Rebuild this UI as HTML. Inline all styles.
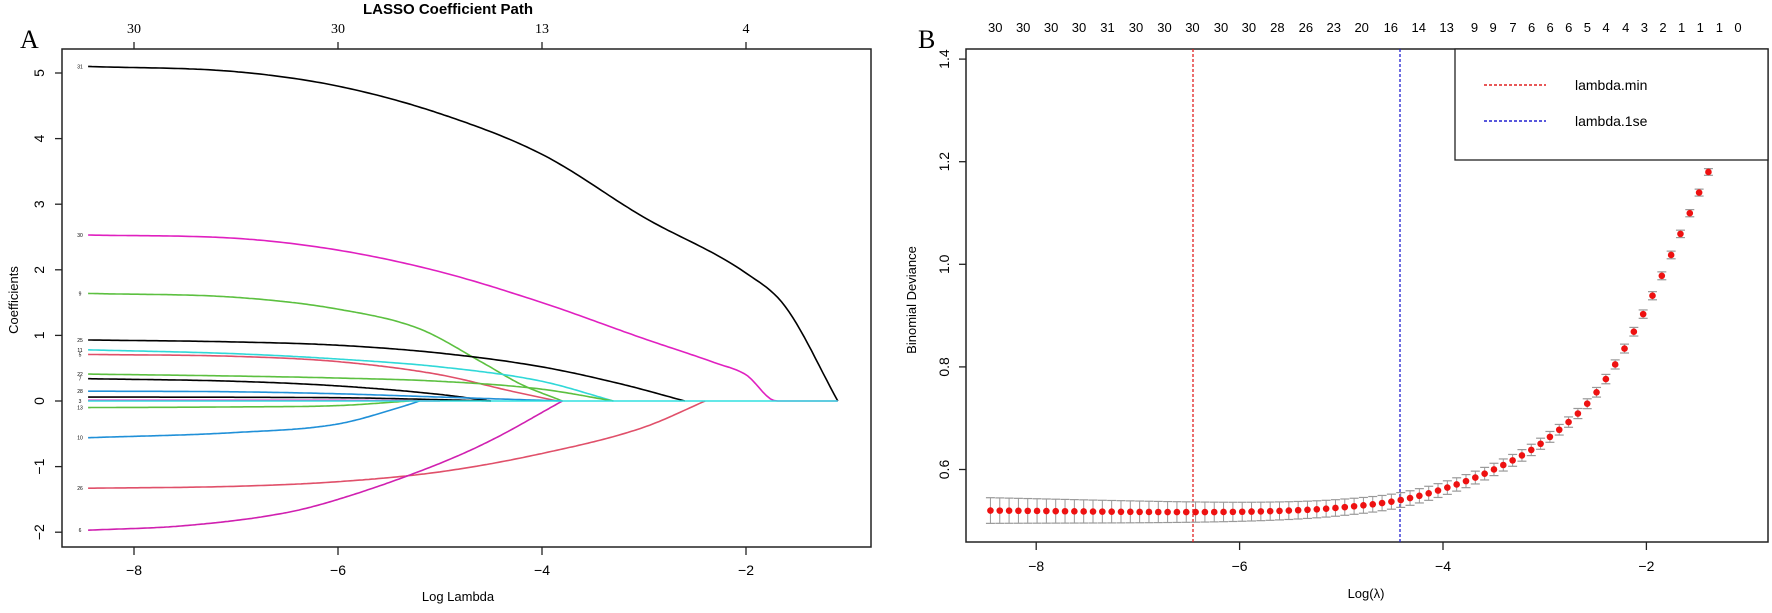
<!DOCTYPE html>
<html><head><meta charset="utf-8"><style>
html,body{margin:0;padding:0;background:#fff;}
svg{display:block;font-family:"Liberation Sans",Arial,sans-serif;}
</style></head><body>
<svg id="s" width="1772" height="613" viewBox="0 0 1772 613" xmlns="http://www.w3.org/2000/svg">
<rect width="1772" height="613" fill="#fff"/>
<text x="448" y="14" font-size="15" font-weight="bold" text-anchor="middle">LASSO Coefficient Path</text>
<text x="20" y="48" font-size="26" font-family="Liberation Serif,serif">A</text>
<rect x="62" y="49" width="809" height="498" fill="none" stroke="#222" stroke-width="1.5"/>
<g id="A"></g>
<text x="458" y="601" font-size="13" text-anchor="middle">Log Lambda</text>
<text transform="translate(18,300) rotate(-90)" font-size="13" text-anchor="middle">Coefficients</text>
<text x="918" y="48" font-size="26" font-family="Liberation Serif,serif">B</text>
<rect x="966" y="49" width="802" height="493" fill="none" stroke="#222" stroke-width="1.5"/>
<g id="B"></g>
<text x="1366" y="598" font-size="13" text-anchor="middle">Log(λ)</text>
<text transform="translate(916,300) rotate(-90)" font-size="13" text-anchor="middle">Binomial Deviance</text>
<rect x="1455" y="49" width="313" height="111" fill="#fff" stroke="#222" stroke-width="1.3"/>
<line x1="1484" y1="85" x2="1546" y2="85" stroke="#e02020" stroke-width="1.5" stroke-dasharray="3,2"/>
<line x1="1484" y1="121" x2="1546" y2="121" stroke="#2020d0" stroke-width="1.5" stroke-dasharray="3,2"/>
<text x="1575" y="90" font-size="14">lambda.min</text>
<text x="1575" y="126" font-size="14">lambda.1se</text>
</svg>
<script>
var NS="http://www.w3.org/2000/svg";
function el(p,t,a,txt){var e=document.createElementNS(NS,t);for(var k in a)e.setAttribute(k,a[k]);if(txt!==undefined)e.textContent=txt;p.appendChild(e);return e;}
var A=document.getElementById('A'),B=document.getElementById('B');
function AX(l){return 134+(l+8)*102;} function AY(c){return 401-c*65.6;}
[-8,-6,-4,-2].forEach(function(v,i){var x=AX(v);
 el(A,'line',{x1:x,y1:547,x2:x,y2:555,stroke:'#222','stroke-width':1.3});
 el(A,'text',{x:x,y:575,'font-size':14,'text-anchor':'middle'},String(v).replace('-','−'));
 el(A,'line',{x1:x,y1:49,x2:x,y2:42,stroke:'#222','stroke-width':1.3});
 el(A,'text',{x:x,y:33,'font-size':14,'text-anchor':'middle','font-family':'Liberation Serif,serif'},['30','30','13','4'][i]);
});
[-2,-1,0,1,2,3,4,5].forEach(function(v){var y=AY(v);
 el(A,'line',{x1:62,y1:y,x2:55,y2:y,stroke:'#222','stroke-width':1.3});
 el(A,'text',{transform:'translate(44,'+y+') rotate(-90)','font-size':14,'text-anchor':'middle'},String(v).replace('-','−'));
});
function mono(kn){var n=kn.length,dx=[],s=[],m=[];
 for(var i=0;i<n-1;i++){dx[i]=kn[i+1][0]-kn[i][0];s[i]=(kn[i+1][1]-kn[i][1])/dx[i];}
 m[0]=s[0];m[n-1]=s[n-2];
 for(i=1;i<n-1;i++){m[i]=(s[i-1]*s[i]<=0)?0:(s[i-1]+s[i])/2;}
 for(i=0;i<n-1;i++){if(s[i]==0){m[i]=0;m[i+1]=0;continue;}var a=m[i]/s[i],b=m[i+1]/s[i],h=a*a+b*b;if(h>9){var t=3/Math.sqrt(h);m[i]=t*a*s[i];m[i+1]=t*b*s[i];}}
 return function(x){if(x<=kn[0][0])return kn[0][1];for(var i=0;i<n-1;i++){if(x<=kn[i+1][0]){var h=dx[i],t=(x-kn[i][0])/h,t2=t*t,t3=t2*t;
  return (2*t3-3*t2+1)*kn[i][1]+(t3-2*t2+t)*h*m[i]+(-2*t3+3*t2)*kn[i+1][1]+(t3-t2)*h*m[i+1];}}return kn[n-1][1];};}
var curves=[
 ['#000','31',[[-8.45,5.1],[-7,5.02],[-6,4.8],[-5,4.38],[-4,3.76],[-3,2.8],[-2,1.95],[-1.62,1.45],[-1.1,0]]],
 ['#e020c0','30',[[-8.45,2.53],[-7,2.48],[-6,2.3],[-5,1.97],[-4,1.5],[-3,0.95],[-2.3,0.58],[-2,0.4],[-1.7,0],[-1.1,0]]],
 ['#5cc040','9',[[-8.45,1.64],[-7,1.58],[-6,1.4],[-5.2,1.1],[-4.6,0.6],[-4.2,0.25],[-3.8,0]]],
 ['#000','25',[[-8.45,0.93],[-7,0.9],[-6,0.85],[-5,0.73],[-4,0.52],[-3.2,0.25],[-2.6,0]]],
 ['#30d8d8','11',[[-8.45,0.78],[-7,0.72],[-6,0.64],[-5,0.52],[-4,0.3],[-3.3,0]]],
 ['#e0506a','5',[[-8.45,0.71],[-7,0.68],[-6,0.6],[-5,0.4],[-4.3,0.15],[-3.85,0]]],
 ['#5cc040','22',[[-8.45,0.41],[-7,0.38],[-6,0.35],[-5,0.3],[-4,0.18],[-3.3,0]]],
 ['#000','7',[[-8.45,0.34],[-7,0.3],[-6,0.23],[-5,0.1],[-4.5,0]]],
 ['#2090d8','28',[[-8.45,0.15],[-7,0.14],[-6,0.11],[-5,0.06],[-3.8,0]]],
 ['#000','',[[-8.45,0.06],[-6,0.05],[-5,0.02],[-4.5,0]]],
 ['#e020c0','',[[-8.45,0.01],[-6,0.01],[-5,0.0]]],
 ['#5cc040','13',[[-8.45,-0.1],[-7,-0.09],[-6,-0.07],[-5.3,0]]],
 ['#2090d8','10',[[-8.45,-0.56],[-7,-0.48],[-6,-0.35],[-5.4,-0.1],[-5.2,0]]],
 ['#e0506a','26',[[-8.45,-1.33],[-7,-1.3],[-6,-1.23],[-5,-1.08],[-4,-0.8],[-3,-0.4],[-2.4,0]]],
 ['#d020b0','6',[[-8.45,-1.97],[-7.5,-1.9],[-6.5,-1.7],[-6,-1.5],[-5,-0.95],[-4.5,-0.6],[-3.8,0]]]
];
curves.forEach(function(c){var kn=c[2],f=mono(kn),x0=kn[0][0],x1=kn[kn.length-1][0],d='';
 for(var k=0;k<=200;k++){var l=x0+(x1-x0)*k/200;d+=(k?'L':'M')+AX(l).toFixed(1)+','+AY(f(l)).toFixed(1);}
 el(A,'path',{d:d,fill:'none',stroke:c[0],'stroke-width':1.6});
 if(c[1])el(A,'text',{x:80,y:AY(kn[0][1])+2,'font-size':5,'text-anchor':'middle'},c[1]);});
el(A,'line',{x1:AX(-8.45),y1:AY(0),x2:AX(-1.1),y2:AY(0),stroke:'#30e0e0','stroke-width':1.6});
el(A,'text',{x:80,y:AY(0)+2,'font-size':5,'text-anchor':'middle'},'3');
function BX(l){return 1443+(l+4)*101.7;} function BY(d){return 469.5-(d-0.6)*513;}
[-8,-6,-4,-2].forEach(function(v){var x=BX(v);
 el(B,'line',{x1:x,y1:542,x2:x,y2:550,stroke:'#222','stroke-width':1.3});
 el(B,'text',{x:x,y:571,'font-size':14,'text-anchor':'middle'},String(v).replace('-','−'));});
[0.6,0.8,1.0,1.2,1.4].forEach(function(v){var y=BY(v);
 el(B,'line',{x1:966,y1:y,x2:959,y2:y,stroke:'#222','stroke-width':1.3});
 el(B,'text',{transform:'translate(949,'+y+') rotate(-90)','font-size':14,'text-anchor':'middle'},v.toFixed(1));});
var tl=[315,360,405,450,496,542,588,633,679,724,770,816,861,906,953,998,1043,1088,1118,1150,1180,1210,1240,1270,1300,1332,1362,1392,1422,1452,1483,1513];
var tn=['30','30','30','30','31','30','30','30','30','30','28','26','23','20','16','14','13','9','9','7','6','6','6','5','4','4','3','2','1','1','1','0'];
tl.forEach(function(x,i){el(B,'text',{x:800+x/1.613,y:32,'font-size':13,'text-anchor':'middle'},tn[i]);});
el(B,'line',{x1:1193,y1:49,x2:1193,y2:542,stroke:'#e02020','stroke-width':1.3,'stroke-dasharray':'3,2'});
el(B,'line',{x1:1400,y1:49,x2:1400,y2:542,stroke:'#2020d0','stroke-width':1.3,'stroke-dasharray':'3,2'});
var dev=mono([[-8.45,0.52],[-6.5,0.517],[-5.5,0.52],[-5,0.526],[-4.43,0.54],[-4,0.562],[-3.5,0.6],[-3,0.656],[-2.5,0.748],[-2,0.915],[-1.6,1.088],[-1.39,1.18]]);
var N=78;
for(var i=0;i<N;i++){var l=-8.45+i*(7.06/(N-1));var d=dev(l);var se=0.025*(1-i/N*0.75);
 var x=BX(l),y0=BY(d+se),y1=BY(d-se);
 el(B,'line',{x1:x,y1:y0,x2:x,y2:y1,stroke:'#999','stroke-width':1});
 el(B,'line',{x1:x-4.5,y1:y0,x2:x+4.5,y2:y0,stroke:'#999','stroke-width':1.2});
 el(B,'line',{x1:x-4.5,y1:y1,x2:x+4.5,y2:y1,stroke:'#999','stroke-width':1.2});
 el(B,'circle',{cx:x,cy:BY(d),r:3.3,fill:'#ee1111'});}
</script>
</body></html>
